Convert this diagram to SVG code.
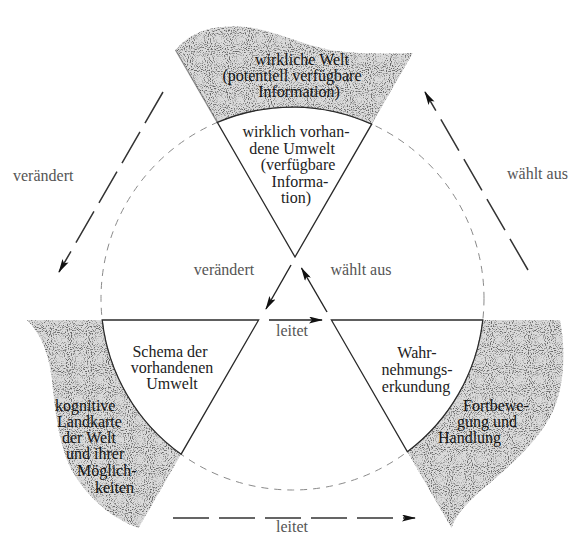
<svg xmlns="http://www.w3.org/2000/svg" width="577" height="537" viewBox="0 0 577 537">
<style>
  text { font-family: "Liberation Serif", "Times New Roman", serif; font-size: 16px; fill: #222; }
  .mid { text-anchor: middle; }
  .soft { fill: #555; }
  .dark { fill: #111; }
  .edge { fill: none; stroke: #2a2a2a; stroke-width: 1.3; }
  .shade { fill: #dadada; filter: url(#stipple); }
  .circle { fill: none; stroke: #8a8a8a; stroke-width: 1; stroke-dasharray: 7 6; }
  .arrow { fill: none; stroke: #222; stroke-width: 1.4; marker-end: url(#head); }
  .dashed { fill: none; stroke: #333; stroke-width: 1.5; stroke-dasharray: 36 10; marker-end: url(#head); }
</style>
<defs>
  <marker id="head" viewBox="0 0 14 7" refX="13" refY="3.5" markerWidth="14" markerHeight="7" markerUnits="userSpaceOnUse" orient="auto">
    <path d="M0,0 L14,3.5 L0,7 L3,3.5 Z" fill="#111"/>
  </marker>
  <filter id="stipple" x="0" y="0" width="1" height="1" color-interpolation-filters="sRGB">
    <feTurbulence type="fractalNoise" baseFrequency="0.95" numOctaves="1" seed="7" result="noise"/>
    <feColorMatrix in="noise" type="matrix" values="0 0 0 0 0.4  0 0 0 0 0.4  0 0 0 0 0.4  0 0 0 -5 2.45" result="dots"/>
    <feComposite in="dots" in2="SourceGraphic" operator="in" result="clipped"/>
    <feMerge><feMergeNode in="SourceGraphic"/><feMergeNode in="clipped"/></feMerge>
  </filter>
</defs>
<rect width="577" height="537" fill="#fff"/>

<g id="kreis">
  <circle class="circle" cx="292.5" cy="298.5" r="191.5"/>
</g>

<g id="wirkliche-welt">
  <path class="shade" d="M175.5,50 C185,38 200,30 215,28 C235,25 255,27 270,32 C290,38 310,46 330,50 C355,54 385,54 412.8,53 L371.7,124.2 A191.5 191.5 0 0 0 217.3,122.4 Z"/>
  <path class="edge" d="M175.5,50 L217.3,122.4" stroke-opacity="0.5"/>
  <text class="mid dark" x="302" y="65">wirkliche Welt</text>
  <text class="mid dark" x="292" y="81">(potentiell verfügbare</text>
  <text class="mid dark" x="299" y="97">Information)</text>
</g>

<g id="umwelt">
  <path class="edge" d="M217.3,122.4 A191.5 191.5 0 0 1 371.7,124.2 L295,257 Z"/>
  <text class="mid" x="296" y="137">wirklich vorhan-</text>
  <text class="mid" x="292" y="154">dene Umwelt</text>
  <text class="mid" x="298" y="170">(verfügbare</text>
  <text class="mid" x="300" y="187">Informa-</text>
  <text class="mid" x="296" y="203">tion)</text>
</g>

<g id="landkarte">
  <path class="shade" d="M27,320 L102.2,320 A191.5 191.5 0 0 0 181.1,454.2 L138.5,528 C110,518 85,495 70,467 C58,440 55,410 52,380 C49,355 42,335 27,320 Z"/>
  <text class="dark" x="55" y="411">kognitive</text>
  <text class="dark" x="57" y="427">Landkarte</text>
  <text class="dark" x="62" y="443">der Welt</text>
  <text class="dark" x="66" y="459">und ihrer</text>
  <text class="dark" x="77" y="476">Möglich-</text>
  <text class="dark" x="95" y="493">keiten</text>
</g>

<g id="schema">
  <path class="edge" d="M102.2,320 L258.6,320 L181.1,454.2 A191.5 191.5 0 0 1 102.2,320 Z"/>
  <text class="mid" x="170" y="357">Schema der</text>
  <text class="mid" x="172" y="373">vorhandenen</text>
  <text class="mid" x="172" y="389">Umwelt</text>
</g>

<g id="fortbewegung">
  <path class="shade" d="M482.8,320 L560,320 C566,350 565,390 550,417 C535,445 505,470 485,487 C470,500 455,515 451.5,528 L407.4,451.7 A191.5 191.5 0 0 0 482.8,320 Z"/>
  <text class="dark" x="463" y="411">Fortbewe-</text>
  <text class="dark" x="457" y="427">gung und</text>
  <text class="dark" x="438" y="443">Handlung</text>
</g>

<g id="erkundung">
  <path class="edge" d="M331.4,320 L482.8,320 A191.5 191.5 0 0 1 407.4,451.7 Z"/>
  <text class="mid" x="417" y="358">Wahr-</text>
  <text class="mid" x="417" y="375">nehmungs-</text>
  <text class="mid" x="416" y="392">erkundung</text>
</g>

<g id="connectors">
  <path class="arrow" d="M291,265 L266,309"/>
  <path class="arrow" d="M327,312 L301.5,268"/>
  <path class="arrow" d="M269,320 L322,320"/>
  <path class="dashed" d="M163,92 L59,272"/>
  <path class="dashed" d="M528,270 L425,92"/>
  <path class="dashed" d="M173,518 L415,518"/>
  <text class="mid soft" x="224" y="275">verändert</text>
  <text class="mid soft" x="361" y="275">wählt aus</text>
  <text class="mid soft" x="292" y="336">leitet</text>
  <text class="soft" x="13" y="181">verändert</text>
  <text class="soft" x="507" y="179">wählt aus</text>
  <text class="mid soft" x="292" y="532">leitet</text>
</g>
</svg>
